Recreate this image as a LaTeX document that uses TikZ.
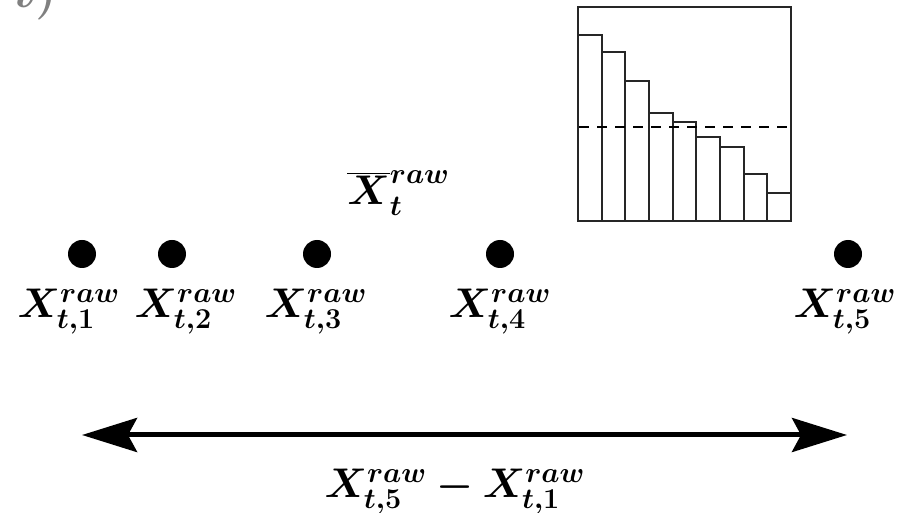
\documentclass[tikz,border=0pt]{standalone}
\usepackage{bm}
\usetikzlibrary{arrows.meta}
\DeclareMathSizes{21}{21}{15}{11}
\tikzset{
  dot/.style={circle, fill=black, minimum size=14pt, inner sep=0pt},
  lab/.style={inner sep=0pt, font=\fontsize{21}{25}\selectfont},
  histline/.style={line width=1pt, draw=black!85},
  dbl/.style={line width=2.5pt, {Stealth[length=27.5pt,width=17pt,inset=4.5pt]}-{Stealth[length=27.5pt,width=17pt,inset=4.5pt]}},
}
\begin{document}
\begin{tikzpicture}[x=0.5pt,y=-0.5pt]
\useasboundingbox (0,0) rectangle (906,513);
\clip (0,0) rectangle (906,513);

% cut-off gray text at top-left
\node[lab, anchor=base west, text=black!50, font=\fontsize{30}{34}\selectfont] (frag) at (14,8) {$\bm{t)}$};

% histogram
\foreach \i/\h in {0/35,1/52,2/81,3/113,4/122,5/137,6/147,7/174,8/193}{
  \draw[histline] ({578+\i*23.67},221) rectangle ({578+(\i+1)*23.67},\h);
}
\draw[histline] (578,7) rectangle (791,221);
\draw[line width=1pt, dash pattern=on 5pt off 4pt] (579,127) -- (791,127);

% mean
\node[lab, anchor=base west] (mean) at (347,205) {$\bm{\overline{X}^{raw}_{t}}$};

% points
\node[dot] (p1) at (82,254) {};
\node[dot] (p2) at (172,254) {};
\node[dot] (p3) at (317,254) {};
\node[dot] (p4) at (500,254) {};
\node[dot] (p5) at (848,254) {};

\node[lab, anchor=base] (l1) at (69,318) {$\bm{X^{raw}_{t,1}}$};
\node[lab, anchor=base] (l2) at (186,318) {$\bm{X^{raw}_{t,2}}$};
\node[lab, anchor=base] (l3) at (316,318) {$\bm{X^{raw}_{t,3}}$};
\node[lab, anchor=base] (l4) at (500,318) {$\bm{X^{raw}_{t,4}}$};
\node[lab, anchor=base] (l5) at (845,318) {$\bm{X^{raw}_{t,5}}$};

% range arrow
\coordinate (aL) at (82,435);
\coordinate (aR) at (847,435);
\draw[dbl] (aL) -- (aR);
\node[lab, anchor=base] (range) at (455,498) {$\bm{X^{raw}_{t,5}-X^{raw}_{t,1}}$};
\end{tikzpicture}
\end{document}
